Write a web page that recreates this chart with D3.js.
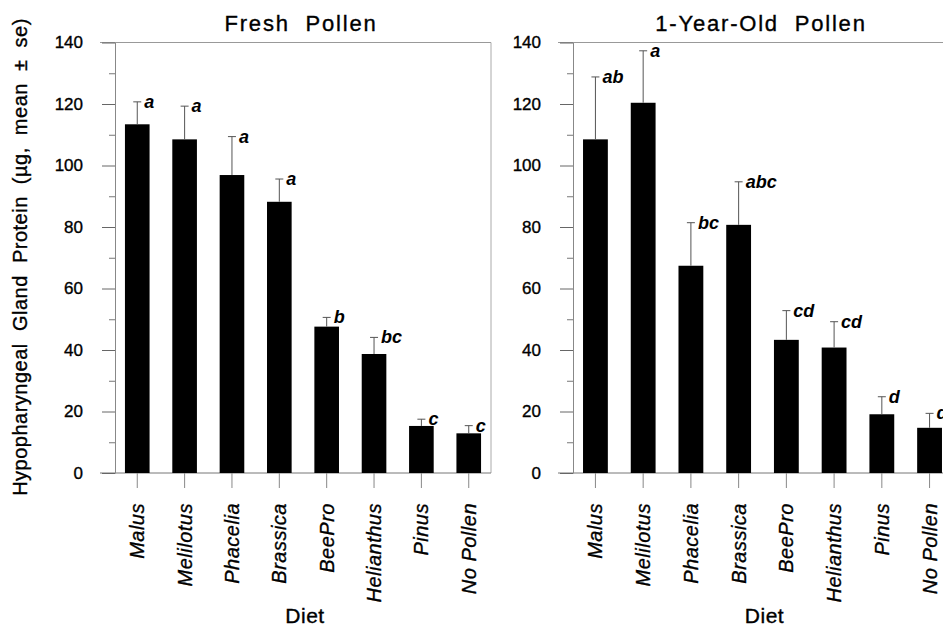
<!DOCTYPE html>
<html>
<head>
<meta charset="utf-8">
<script src="https://cdn.jsdelivr.net/npm/d3@7"></script>
<style>
  body { margin: 0; background: #fff; }
  svg { display: block; font-family: "Liberation Sans", Arial, sans-serif; }
  svg text { stroke: #000; stroke-width: 0.35px; }
</style>
</head>
<body>
<svg id="chart" width="943" height="629"></svg>
<script>
// data
const diets = ['Malus', 'Melilotus', 'Phacelia', 'Brassica', 'BeePro', 'Helianthus', 'Pinus', 'No Pollen'];
const freshMean = [113.4, 108.5, 96.9, 88.2, 47.6, 38.7, 15.3, 12.9];
const freshSe = [7.3, 10.8, 12.5, 7.4, 3.0, 5.4, 2.2, 2.5];
const freshLetters = ['a', 'a', 'a', 'a', 'b', 'bc', 'c', 'c'];
const oldMean = [108.5, 120.4, 67.4, 80.7, 43.3, 40.8, 19.1, 14.7];
const oldSe = [20.3, 16.9, 14.0, 14.0, 9.5, 8.4, 5.7, 4.7];
const oldLetters = ['ab', 'a', 'bc', 'abc', 'cd', 'cd', 'd', 'd'];
const majorTicks = [0, 20, 40, 60, 80, 100, 120, 140];
const minorTicks = [10, 30, 50, 70, 90, 110, 130];

const svg = d3.select('#chart');

const y = d3.scaleLinear().domain([0, 140]).range([473, 42.5]);

function drawPanel(opts) {
    const x = d3.scaleBand()
        .domain(diets)
        .range([opts.left, opts.right])
        .paddingInner(0.48)
        .paddingOuter(0.21);
    const g = svg.append('g');

    // frame (top + right side)
    g.append('line')
        .attr('x1', opts.left - 15).attr('x2', opts.right)
        .attr('y1', y(140)).attr('y2', y(140))
        .attr('stroke', '#999').attr('stroke-width', 1);
    g.append('line')
        .attr('x1', opts.right).attr('x2', opts.right)
        .attr('y1', y(140)).attr('y2', y(0))
        .attr('stroke', '#aaa').attr('stroke-width', 1);
    // baseline
    g.append('line')
        .attr('x1', opts.left - 15).attr('x2', opts.right)
        .attr('y1', y(0)).attr('y2', y(0))
        .attr('stroke', '#777').attr('stroke-width', 1);

    // minor ticks
    const minor = g.append('g')
        .attr('transform', `translate(${opts.left},0)`)
        .call(d3.axisLeft(y).tickValues(minorTicks).tickSize(6).tickFormat(''));
    minor.select('.domain').remove();
    minor.selectAll('line').attr('stroke', '#777');

    // major ticks + labels
    const yAxis = g.append('g')
        .attr('transform', `translate(${opts.left},0)`)
        .call(d3.axisLeft(y).tickValues(majorTicks).tickSize(13).tickSizeOuter(0).tickPadding(19));
    yAxis.select('.domain').attr('stroke', '#888');
    yAxis.selectAll('line').attr('stroke', '#666');
    yAxis.selectAll('text')
        .attr('font-size', 17)
        .attr('font-family', '"Liberation Sans", Arial, sans-serif')
        .attr('fill', '#000');

    // category ticks
    const xAxis = g.append('g')
        .attr('transform', `translate(0,${y(0)})`)
        .call(d3.axisBottom(x).tickSize(15).tickSizeOuter(0).tickFormat(''));
    xAxis.select('.domain').remove();
    xAxis.selectAll('line').attr('stroke', '#888');

    // bars
    g.selectAll('rect.bar')
        .data(diets)
        .enter()
        .append('rect')
        .attr('class', 'bar')
        .attr('x', d => x(d))
        .attr('width', x.bandwidth())
        .attr('y', (d, i) => y(opts.mean[i]))
        .attr('height', (d, i) => y(0) - y(opts.mean[i]))
        .attr('fill', '#000');

    // error bars
    const cx = d => x(d) + x.bandwidth() / 2;
    const err = g.append('g').attr('stroke', '#555').attr('stroke-width', 1);
    diets.forEach((d, i) => {
        const top = y(opts.mean[i] + opts.se[i]);
        err.append('line')
            .attr('x1', cx(d)).attr('x2', cx(d))
            .attr('y1', y(opts.mean[i])).attr('y2', top);
        err.append('line')
            .attr('x1', cx(d) - 4).attr('x2', cx(d) + 4)
            .attr('y1', top).attr('y2', top);
    });

    // significance letters
    g.selectAll('text.letter')
        .data(diets)
        .enter()
        .append('text')
        .attr('class', 'letter')
        .attr('x', d => cx(d) + 7)
        .attr('y', (d, i) => y(opts.mean[i] + opts.se[i]) + 6)
        .attr('font-size', 18)
        .attr('font-weight', 'bold')
        .attr('font-style', 'italic')
        .style('stroke-width', '0px')
        .text((d, i) => opts.letters[i]);

    // rotated diet names
    g.selectAll('text.diet')
        .data(diets)
        .enter()
        .append('text')
        .attr('class', 'diet')
        .attr('transform', d => `translate(${cx(d) + 7},503) rotate(-90)`)
        .attr('text-anchor', 'end')
        .attr('font-size', 20)
        .attr('font-style', 'italic')
        .attr('letter-spacing', 0.5)
        .text(d => d);

    // x label
    g.append('text')
        .attr('x', (cx(diets[0]) + cx(diets[diets.length - 1])) / 2 + 2)
        .attr('y', 623)
        .attr('text-anchor', 'middle')
        .attr('font-size', 21)
        .attr('letter-spacing', 0.5)
        .text('Diet');

    // title
    g.append('text')
        .attr('x', opts.titleX)
        .attr('y', 31)
        .attr('text-anchor', 'middle')
        .attr('font-size', 22)
        .attr('letter-spacing', 1.8)
        .style('white-space', 'pre')
        .text(opts.title);
}

drawPanel({ left: 115, right: 491, mean: freshMean, se: freshSe, letters: freshLetters,
            title: 'Fresh  Pollen', titleX: 301 });
drawPanel({ left: 573, right: 952, mean: oldMean, se: oldSe, letters: oldLetters,
            title: '1-Year-Old  Pollen', titleX: 761 });

// shared y label
svg.append('text')
    .attr('transform', 'translate(27,257) rotate(-90)')
    .attr('text-anchor', 'middle')
    .attr('font-size', 20)
    .attr('letter-spacing', 0.5)
    .style('white-space', 'pre')
    .text('Hypopharyngeal  Gland  Protein  (µg,  mean  ±  se)');
</script>
</body>
</html>
